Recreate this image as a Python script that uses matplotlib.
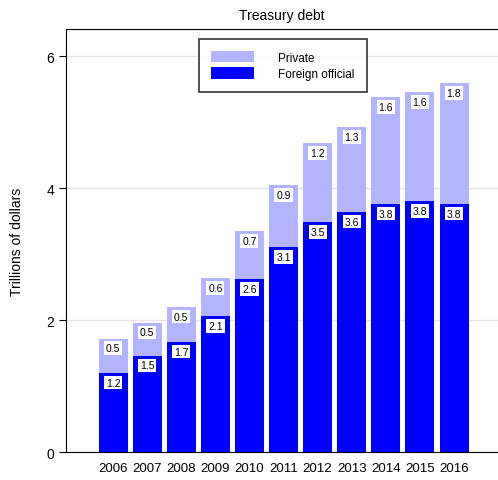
import numpy as np
import matplotlib.pyplot as plt

plt.rcParams['font.family'] = ['Liberation Sans', 'DejaVu Sans']

# Data (trillions of dollars)
years = [2006, 2007, 2008, 2009, 2010, 2011, 2012, 2013, 2014, 2015, 2016]
foreign_official = [1.20, 1.46, 1.67, 2.06, 2.62, 3.10, 3.48, 3.64, 3.76, 3.80, 3.76]
private = [0.52, 0.50, 0.53, 0.57, 0.73, 0.94, 1.20, 1.28, 1.62, 1.65, 1.83]

col_private = "#b3b3ff"
col_foreign = "#0000ff"

fig = plt.figure(figsize=(4.98, 4.81), dpi=100)
ax = fig.add_axes([0.1325, 0.0582, 0.8675, 0.8794])

x = np.array(years)
fo = np.array(foreign_official)
pr = np.array(private)

b1 = ax.bar(x, fo, width=0.85, color=col_foreign, label="Foreign official", zorder=2)
b2 = ax.bar(x, pr, bottom=fo, width=0.85, color=col_private, label="Private", zorder=2)

# value labels just under the top of each segment
box = dict(boxstyle="square,pad=0.18", fc="white", ec="none")
for xi, f, p in zip(x, fo, pr):
    ax.annotate(f"{f:.1f}", (xi, f), xytext=(0, -7), textcoords="offset points",
                ha="center", va="center", fontsize=7.5, bbox=box, zorder=3)
    ax.annotate(f"{p:.1f}", (xi, f + p), xytext=(0, -7), textcoords="offset points",
                ha="center", va="center", fontsize=7.5, bbox=box, zorder=3)

ax.set_xlim(2004.62, 2017.29)
ax.set_ylim(0, 6.41)
ax.set_yticks([0, 2, 4, 6])
ax.set_xticks(years)
ax.tick_params(axis="x", length=0, labelsize=9.5, pad=7)
ax.tick_params(axis="y", length=5, labelsize=10)
ax.yaxis.grid(True, color="#e5e5e5", linewidth=1, zorder=0)
ax.set_axisbelow(True)
ax.spines["right"].set_visible(False)

ax.set_ylabel("Trillions of dollars", fontsize=10, labelpad=16)
ax.set_title("Treasury debt", fontsize=10, pad=7)

leg = ax.legend(handles=[b2, b1], loc="upper left", bbox_to_anchor=(0.295, 0.99),
                fontsize=8.5, frameon=True, fancybox=False, edgecolor="black",
                handlelength=3.6, handleheight=1.1, handletextpad=2.1,
                borderpad=1.0, labelspacing=0.3, borderaxespad=0.5)
leg.get_frame().set_linewidth(1.2)

plt.savefig("out.png", dpi=100)
